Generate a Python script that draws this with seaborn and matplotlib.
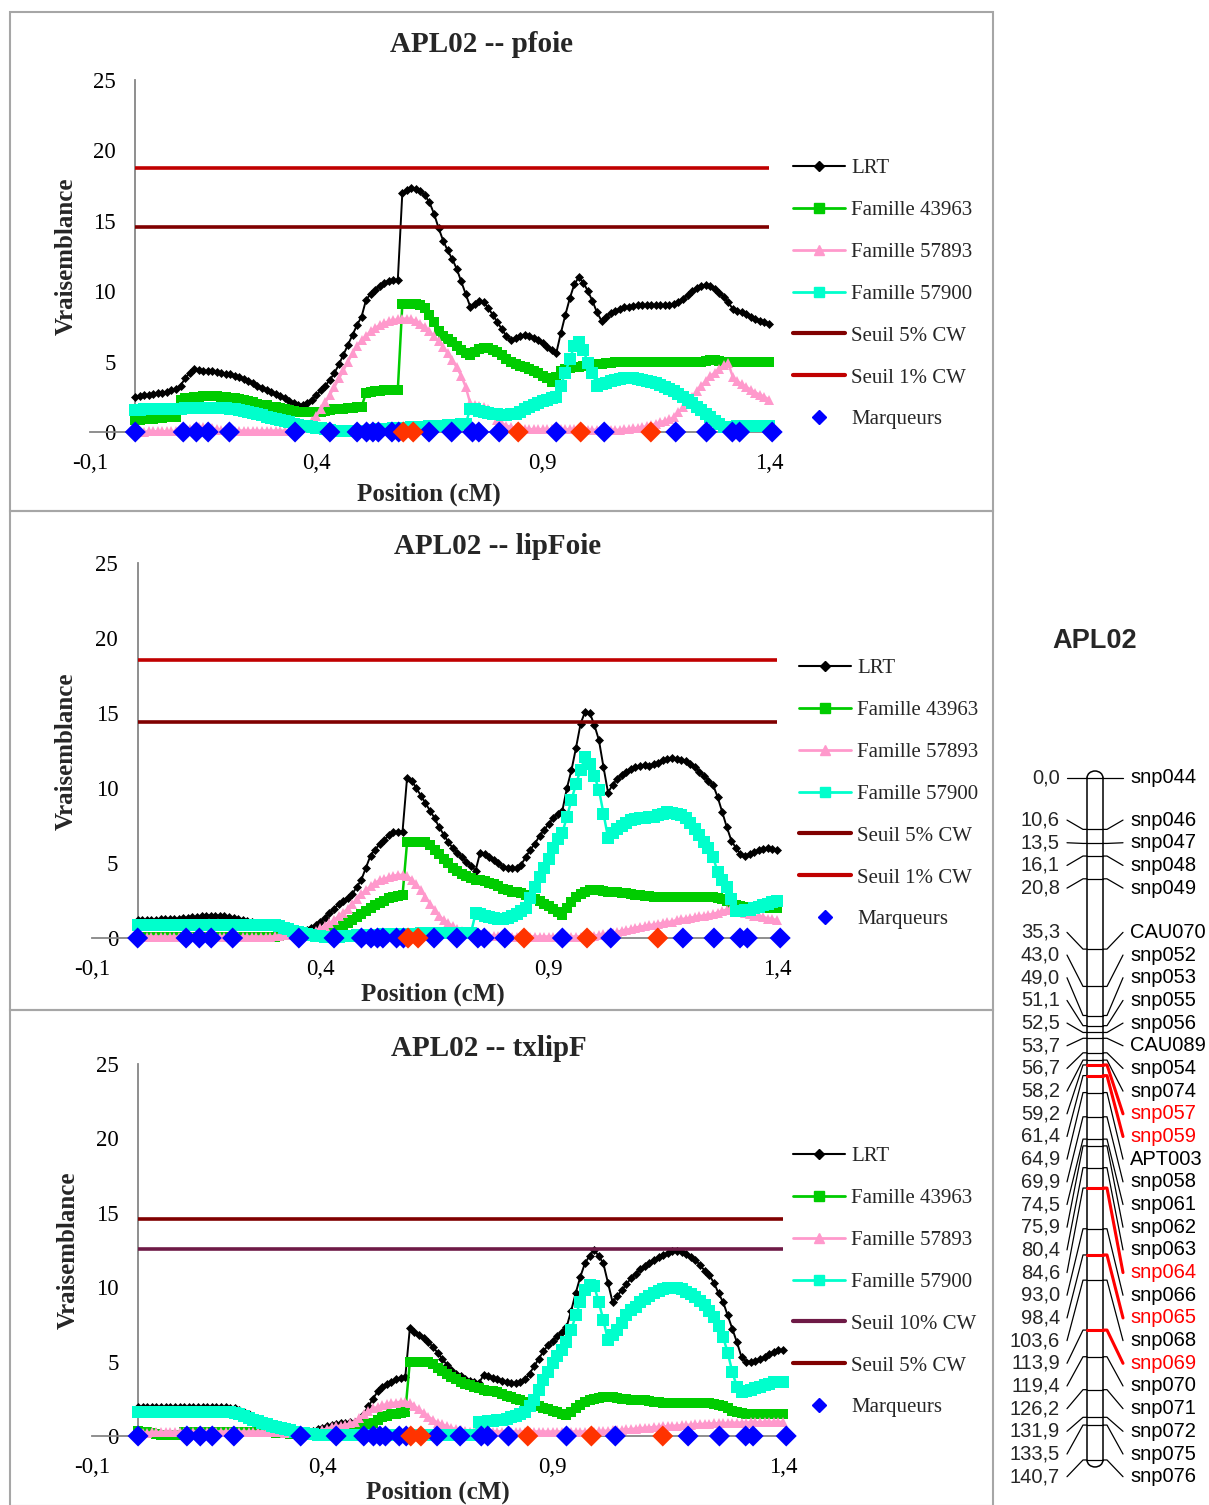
import numpy as np
import matplotlib
matplotlib.use("Agg")
import matplotlib.pyplot as plt
import seaborn as sns
from matplotlib.lines import Line2D
from matplotlib.patches import Rectangle, Arc

sns.set_theme(style="white")
plt.rcParams["font.family"] = ["Liberation Serif", "DejaVu Serif"]

# ---------------- data ----------------
# positions le long du groupe (grille de 0,01)
pos = np.arange(141) / 100

# APL02 -- pfoie
lrt1 = [2.5, 2.55, 2.6, 2.65, 2.7, 2.75, 2.8, 2.85, 2.95, 3.05,
        3.3, 3.8, 4.2, 4.45, 4.4, 4.35, 4.3, 4.3, 4.25, 4.2,
        4.15, 4.1, 4.0, 3.9, 3.75, 3.6, 3.45, 3.3, 3.15, 3.0,
        2.85, 2.7, 2.55, 2.4, 2.2, 2.05, 1.95, 1.95, 2.05, 2.3,
        2.6, 2.95, 3.3, 3.7, 4.2, 4.8, 5.5, 6.2, 6.9, 7.6,
        8.2, 9.4, 9.8, 10.1, 10.4, 10.6, 10.75, 10.8, 10.8, 17.0,
        17.2, 17.3, 17.25, 17.1, 16.8, 16.3, 15.5, 14.5, 13.6, 12.9,
        12.3, 11.6, 10.7, 9.8, 8.9, 9.1, 9.3, 9.2, 8.8, 8.3,
        7.8, 7.3, 6.8, 6.5, 6.7, 6.85, 6.9, 6.85, 6.7, 6.5,
        6.3, 6.05, 5.8, 5.6, 7.0, 8.3, 9.5, 10.5, 11.0, 10.6,
        10.0, 9.3, 8.5, 7.9, 8.2, 8.45, 8.6, 8.75, 8.85, 8.9,
        8.95, 9.0, 9.0, 9.0, 9.0, 9.0, 9.0, 9.0, 9.05, 9.1,
        9.2, 9.45, 9.75, 10.0, 10.25, 10.4, 10.45, 10.35, 10.15, 9.9,
        9.6, 9.2, 8.75, 8.6, 8.5, 8.35, 8.2, 8.05, 7.9, 7.8,
        7.7]
f43963_1 = [0.85, 0.88, 0.9, 0.93, 0.95, 0.98, 1.0, 1.03, 1.05, 1.08,
            2.3, 2.4, 2.45, 2.5, 2.5, 2.55, 2.55, 2.55, 2.55, 2.5,
            2.5, 2.45, 2.4, 2.35, 2.3, 2.2, 2.1, 2.0, 1.95, 1.9,
            1.8, 1.75, 1.7, 1.6, 1.55, 1.5, 1.45, 1.4, 1.4, 1.4,
            1.4, 1.45, 1.5, 1.55, 1.6, 1.62, 1.65, 1.7, 1.72, 1.75,
            1.8, 2.8, 2.85, 2.9, 2.9, 2.95, 2.95, 3.0, 3.0, 9.1,
            9.1, 9.1, 9.1, 9.05, 8.8, 8.3, 7.8, 7.2, 6.8, 6.6,
            6.4, 6.1, 5.8, 5.6, 5.5, 5.7, 5.9, 6.0, 5.95, 5.85,
            5.7, 5.5, 5.2, 4.95, 4.8, 4.7, 4.6, 4.5, 4.35, 4.2,
            4.0, 3.8, 3.55, 3.9, 4.3, 4.5, 4.55, 4.6, 4.65, 4.7,
            4.72, 4.75, 4.8, 4.85, 4.9, 4.92, 4.95, 4.97, 4.98, 5.0,
            5.0, 5.0, 5.0, 5.0, 5.0, 5.0, 5.0, 5.0, 5.0, 5.0,
            5.0, 5.0, 5.0, 5.0, 5.0, 5.0, 5.05, 5.1, 5.1, 5.05,
            5.0, 5.0, 5.0, 5.0, 5.0, 5.0, 5.0, 5.0, 5.0, 5.0,
            5.0]
f57893_1 = [0.0, 0.0, 0.02, 0.05, 0.05, 0.05, 0.05, 0.05, 0.05, 0.08,
            0.1, 0.15, 0.2, 0.3, 0.35, 0.35, 0.3, 0.25, 0.2, 0.15,
            0.12, 0.1, 0.1, 0.1, 0.1, 0.1, 0.1, 0.1, 0.1, 0.1,
            0.1, 0.1, 0.1, 0.1, 0.1, 0.12, 0.15, 0.25, 0.45, 0.75,
            1.15, 1.6, 2.1, 2.65, 3.2, 3.8, 4.4, 5.0, 5.6, 6.1,
            6.5, 6.85, 7.15, 7.4, 7.6, 7.75, 7.85, 7.95, 8.0, 8.05,
            8.05, 8.0, 7.9, 7.7, 7.45, 7.15, 6.8, 6.45, 6.05, 5.6,
            5.1, 4.6, 4.0, 3.2, 2.05, 1.9, 1.85, 1.8, 1.6, 1.2,
            0.85, 0.6, 0.45, 0.35, 0.3, 0.25, 0.22, 0.2, 0.2, 0.2,
            0.2, 0.2, 0.2, 0.2, 0.2, 0.2, 0.2, 0.2, 0.2, 0.2,
            0.15, 0.15, 0.15, 0.15, 0.15, 0.15, 0.15, 0.15, 0.2, 0.22,
            0.25, 0.3, 0.35, 0.4, 0.5, 0.6, 0.7, 0.8, 0.9, 1.05,
            1.4, 1.75, 2.1, 2.5, 2.9, 3.3, 3.6, 4.0, 4.2, 4.5,
            4.75, 4.9, 3.9, 3.6, 3.4, 3.2, 3.0, 2.8, 2.65, 2.5,
            2.3]
f57900_1 = [1.55, 1.58, 1.6, 1.6, 1.62, 1.62, 1.63, 1.65, 1.65, 1.65,
            1.65, 1.67, 1.68, 1.7, 1.7, 1.7, 1.7, 1.7, 1.7, 1.7,
            1.68, 1.65, 1.6, 1.55, 1.5, 1.45, 1.35, 1.3, 1.2, 1.1,
            1.0, 0.95, 0.85, 0.8, 0.7, 0.6, 0.5, 0.45, 0.4, 0.35,
            0.3, 0.25, 0.2, 0.15, 0.1, 0.08, 0.06, 0.05, 0.05, 0.05,
            0.08, 0.1, 0.12, 0.15, 0.18, 0.2, 0.22, 0.25, 0.27, 0.3,
            0.3, 0.32, 0.34, 0.36, 0.38, 0.4, 0.42, 0.44, 0.46, 0.48,
            0.5, 0.52, 0.55, 0.58, 1.65, 1.6, 1.5, 1.4, 1.35, 1.3,
            1.25, 1.2, 1.2, 1.25, 1.3, 1.45, 1.6, 1.75, 1.9, 2.05,
            2.2, 2.3, 2.45, 2.5, 3.3, 4.2, 5.2, 6.1, 6.4, 5.8,
            4.9, 4.2, 3.3, 3.4, 3.5, 3.6, 3.7, 3.75, 3.8, 3.8,
            3.8, 3.75, 3.7, 3.65, 3.55, 3.45, 3.35, 3.2, 3.05, 2.9,
            2.7, 2.5, 2.3, 2.05, 1.8, 1.55, 1.3, 1.05, 0.8, 0.55,
            0.35, 0.35, 0.38, 0.4, 0.4, 0.42, 0.43, 0.44, 0.45, 0.45,
            0.45]

# APL02 -- lipFoie
lrt2 = [1.2, 1.2, 1.2, 1.22, 1.22, 1.25, 1.25, 1.27, 1.28, 1.3,
        1.32, 1.35, 1.38, 1.4, 1.45, 1.5, 1.5, 1.5, 1.48, 1.45,
        1.4, 1.35, 1.3, 1.2, 1.15, 1.05, 1.0, 0.9, 0.85, 0.8,
        0.75, 0.7, 0.65, 0.6, 0.55, 0.52, 0.5, 0.55, 0.65, 0.85,
        1.1, 1.35, 1.65, 1.95, 2.25, 2.5, 2.7, 2.95, 3.4, 3.9,
        4.7, 5.5, 5.9, 6.25, 6.55, 6.85, 7.05, 7.1, 7.1, 10.7,
        10.5, 10.0, 9.5, 9.0, 8.5, 8.0, 7.4, 6.9, 6.4, 6.0,
        5.7, 5.4, 5.1, 4.8, 4.5, 5.7, 5.6, 5.4, 5.2, 5.0,
        4.75, 4.7, 4.65, 4.65, 4.9, 5.4, 5.9, 6.3, 6.8, 7.2,
        7.6, 8.0, 8.3, 8.5, 10.0, 11.2, 12.7, 14.3, 15.1, 15.0,
        14.2, 13.2, 11.4, 9.7, 10.2, 10.6, 10.9, 11.1, 11.3, 11.4,
        11.5, 11.55, 11.5, 11.6, 11.7, 11.85, 11.95, 12.0, 11.95, 11.9,
        11.8, 11.6, 11.4, 11.1, 10.8, 10.5, 10.2, 9.4, 8.4, 7.4,
        6.5, 6.0, 5.6, 5.5, 5.6, 5.75, 5.85, 5.95, 6.0, 5.95,
        5.85]
f43963_2 = [0.05, 0.05, 0.05, 0.05, 0.05, 0.05, 0.05, 0.05, 0.05, 0.05,
            0.05, 0.05, 0.05, 0.05, 0.05, 0.05, 0.05, 0.05, 0.05, 0.05,
            0.05, 0.05, 0.05, 0.05, 0.05, 0.05, 0.05, 0.05, 0.05, 0.05,
            0.1, 0.15, 0.2, 0.25, 0.3, 0.3, 0.3, 0.3, 0.3, 0.3,
            0.35, 0.4, 0.5, 0.6, 0.7, 0.85, 1.0, 1.2, 1.4, 1.6,
            1.8, 2.0, 2.2, 2.35, 2.5, 2.65, 2.75, 2.8, 2.85, 6.4,
            6.4, 6.4, 6.4, 6.4, 6.2, 5.9, 5.6, 5.3, 5.0, 4.7,
            4.5, 4.3, 4.15, 4.0, 3.9, 3.85, 3.8, 3.7, 3.6, 3.45,
            3.3, 3.2, 3.1, 3.05, 3.0, 2.9, 2.75, 2.6, 2.45, 2.3,
            2.15, 1.95, 1.75, 1.55, 2.0, 2.4, 2.75, 2.95, 3.1, 3.2,
            3.2, 3.2, 3.15, 3.1, 3.1, 3.05, 3.0, 3.0, 2.95, 2.9,
            2.85, 2.8, 2.8, 2.75, 2.75, 2.75, 2.75, 2.75, 2.75, 2.75,
            2.75, 2.75, 2.75, 2.75, 2.75, 2.75, 2.75, 2.7, 2.6, 2.45,
            2.3, 2.2, 2.15, 2.1, 2.1, 2.05, 2.05, 2.0, 2.0, 2.0,
            2.0]
f57893_2 = [0.1, 0.1, 0.1, 0.1, 0.1, 0.1, 0.1, 0.1, 0.1, 0.1,
            0.1, 0.1, 0.1, 0.1, 0.1, 0.1, 0.1, 0.1, 0.1, 0.1,
            0.1, 0.1, 0.1, 0.1, 0.1, 0.1, 0.1, 0.1, 0.1, 0.1,
            0.12, 0.15, 0.18, 0.2, 0.2, 0.2, 0.22, 0.25, 0.35, 0.5,
            0.65, 0.8, 1.0, 1.2, 1.45, 1.7, 1.95, 2.25, 2.6, 2.95,
            3.2, 3.45, 3.7, 3.85, 3.95, 4.05, 4.15, 4.2, 4.2, 4.15,
            3.9, 3.6, 3.2, 2.75, 2.3, 1.9, 1.5, 1.2, 1.0, 0.8,
            0.6, 0.5, 0.4, 0.3, 0.25, 0.2, 0.15, 0.15, 0.15, 0.15,
            0.1, 0.1, 0.1, 0.1, 0.1, 0.1, 0.1, 0.1, 0.1, 0.1,
            0.1, 0.1, 0.1, 0.1, 0.1, 0.1, 0.1, 0.1, 0.1, 0.1,
            0.15, 0.2, 0.25, 0.3, 0.35, 0.4, 0.5, 0.55, 0.6, 0.7,
            0.75, 0.8, 0.85, 0.9, 0.95, 1.0, 1.05, 1.1, 1.2, 1.25,
            1.3, 1.35, 1.4, 1.45, 1.5, 1.55, 1.6, 1.7, 1.8, 1.9,
            2.0, 1.9, 1.8, 1.7, 1.6, 1.5, 1.45, 1.4, 1.3, 1.25,
            1.2]
f57900_2 = [0.87, 0.87, 0.88, 0.88, 0.88, 0.88, 0.89, 0.89, 0.9, 0.9,
            0.9, 0.9, 0.9, 0.9, 0.9, 0.9, 0.9, 0.9, 0.9, 0.9,
            0.9, 0.9, 0.9, 0.9, 0.9, 0.9, 0.89, 0.89, 0.88, 0.87,
            0.85, 0.8, 0.7, 0.6, 0.5, 0.42, 0.35, 0.27, 0.2, 0.15,
            0.12, 0.1, 0.1, 0.1, 0.1, 0.12, 0.14, 0.15, 0.17, 0.2,
            0.2, 0.21, 0.22, 0.23, 0.24, 0.25, 0.26, 0.27, 0.28, 0.29,
            0.3, 0.3, 0.31, 0.31, 0.32, 0.32, 0.33, 0.33, 0.34, 0.34,
            0.35, 0.35, 0.36, 0.36, 1.65, 1.6, 1.5, 1.4, 1.35, 1.3,
            1.3, 1.35, 1.45, 1.6, 1.8, 2.0, 2.7, 3.4, 4.05, 4.7,
            5.3, 6.0, 6.6, 7.0, 8.1, 9.2, 10.3, 11.2, 12.1, 11.6,
            10.8, 9.9, 8.3, 6.7, 7.0, 7.3, 7.5, 7.7, 7.85, 7.95,
            8.0, 8.0, 8.05, 8.1, 8.2, 8.3, 8.4, 8.35, 8.3, 8.2,
            8.0, 7.7, 7.3, 6.9, 6.4, 6.0, 5.4, 4.4, 3.9, 3.4,
            2.6, 1.8, 1.8, 1.85, 1.9, 2.0, 2.1, 2.2, 2.3, 2.4,
            2.5]

# APL02 -- txlipF
lrt3 = [1.95, 1.95, 1.95, 1.95, 1.95, 1.95, 1.95, 1.95, 1.95, 1.95,
        1.95, 1.95, 1.95, 1.95, 1.95, 1.95, 1.95, 1.95, 1.95, 1.95,
        1.9, 1.85, 1.75, 1.6, 1.45, 1.3, 1.15, 1.0, 0.9, 0.8,
        0.7, 0.6, 0.5, 0.45, 0.4, 0.35, 0.3, 0.3, 0.35, 0.45,
        0.55, 0.65, 0.75, 0.8, 0.85, 0.9, 0.92, 0.95, 1.1, 1.5,
        2.0, 2.5, 3.0, 3.3, 3.5, 3.65, 3.8, 3.9, 3.95, 7.25,
        7.0, 6.8, 6.6, 6.3, 6.0, 5.6, 5.2, 4.8, 4.45, 4.2,
        4.0, 3.8, 3.7, 3.6, 3.55, 4.1, 4.0, 3.9, 3.8, 3.7,
        3.6, 3.55, 3.55, 3.6, 3.8, 4.2, 4.7, 5.2, 5.7, 6.1,
        6.4, 6.7, 7.0, 7.3, 8.4, 9.6, 10.7, 11.6, 12.1, 12.5,
        12.1, 11.6, 10.3, 9.0, 9.4, 9.8, 10.2, 10.6, 10.9, 11.2,
        11.4, 11.6, 11.8, 12.0, 12.15, 12.3, 12.4, 12.4, 12.35, 12.2,
        12.0, 11.8, 11.5, 11.1, 10.8, 10.3, 9.6, 9.0, 8.1, 7.2,
        6.3, 5.3, 5.0, 5.0, 5.05, 5.15, 5.3, 5.5, 5.65, 5.75,
        5.8]
f43963_3 = [0.35, 0.3, 0.25, 0.2, 0.15, 0.1, 0.08, 0.06, 0.05, 0.05,
            0.25, 0.25, 0.25, 0.25, 0.25, 0.25, 0.25, 0.25, 0.25, 0.25,
            0.25, 0.25, 0.25, 0.25, 0.25, 0.25, 0.25, 0.25, 0.25, 0.25,
            0.22, 0.2, 0.18, 0.15, 0.12, 0.1, 0.08, 0.06, 0.05, 0.05,
            0.05, 0.05, 0.06, 0.08, 0.1, 0.15, 0.25, 0.4, 0.55, 0.7,
            0.8, 0.9, 1.1, 1.25, 1.35, 1.45, 1.5, 1.55, 1.6, 5.0,
            5.0, 5.0, 5.0, 5.0, 4.85, 4.6, 4.4, 4.15, 3.95, 3.8,
            3.65, 3.5, 3.4, 3.3, 3.2, 3.1, 3.05, 3.0, 2.95, 2.85,
            2.7, 2.6, 2.5, 2.4, 2.3, 2.2, 2.1, 2.0, 1.9, 1.8,
            1.7, 1.6, 1.5, 1.4, 1.6, 1.85, 2.1, 2.3, 2.4, 2.5,
            2.55, 2.6, 2.6, 2.6, 2.55, 2.5, 2.5, 2.45, 2.45, 2.4,
            2.4, 2.35, 2.3, 2.3, 2.25, 2.25, 2.2, 2.2, 2.2, 2.2,
            2.2, 2.2, 2.2, 2.2, 2.2, 2.15, 2.1, 2.0, 1.85, 1.7,
            1.6, 1.55, 1.5, 1.5, 1.5, 1.5, 1.5, 1.5, 1.5, 1.5,
            1.5]
f57893_3 = [0.2, 0.2, 0.22, 0.25, 0.25, 0.28, 0.3, 0.3, 0.3, 0.3,
            0.3, 0.3, 0.3, 0.3, 0.3, 0.3, 0.3, 0.3, 0.3, 0.3,
            0.3, 0.3, 0.3, 0.3, 0.3, 0.3, 0.3, 0.3, 0.3, 0.3,
            0.28, 0.25, 0.22, 0.2, 0.17, 0.15, 0.12, 0.1, 0.15, 0.25,
            0.4, 0.5, 0.6, 0.65, 0.7, 0.75, 0.85, 0.95, 1.2, 1.45,
            1.7, 1.85, 1.95, 2.05, 2.15, 2.2, 2.25, 2.3, 2.3, 2.25,
            2.0, 1.8, 1.55, 1.3, 1.1, 0.9, 0.8, 0.65, 0.55, 0.45,
            0.4, 0.35, 0.3, 0.3, 0.3, 0.3, 0.3, 0.3, 0.3, 0.3,
            0.3, 0.3, 0.3, 0.3, 0.3, 0.3, 0.3, 0.3, 0.3, 0.3,
            0.3, 0.3, 0.3, 0.3, 0.3, 0.3, 0.3, 0.3, 0.3, 0.3,
            0.32, 0.34, 0.36, 0.38, 0.4, 0.42, 0.44, 0.46, 0.5, 0.52,
            0.55, 0.57, 0.6, 0.62, 0.64, 0.66, 0.68, 0.7, 0.72, 0.74,
            0.76, 0.78, 0.8, 0.82, 0.84, 0.85, 0.86, 0.87, 0.88, 0.89,
            0.9, 0.9, 0.9, 0.92, 0.92, 0.93, 0.93, 0.94, 0.95, 0.95,
            0.95]
f57900_3 = [1.6, 1.6, 1.6, 1.6, 1.6, 1.6, 1.6, 1.6, 1.6, 1.6,
            1.6, 1.6, 1.6, 1.6, 1.6, 1.6, 1.6, 1.6, 1.6, 1.6,
            1.6, 1.55, 1.45, 1.35, 1.2, 1.1, 1.0, 0.9, 0.8, 0.7,
            0.6, 0.52, 0.45, 0.38, 0.3, 0.22, 0.18, 0.15, 0.12, 0.1,
            0.1, 0.1, 0.1, 0.1, 0.1, 0.1, 0.1, 0.1, 0.1, 0.1,
            0.1, 0.1, 0.1, 0.1, 0.1, 0.1, 0.1, 0.1, 0.1, 0.1,
            0.1, 0.1, 0.1, 0.1, 0.1, 0.1, 0.1, 0.1, 0.1, 0.1,
            0.1, 0.1, 0.1, 0.1, 0.95, 0.95, 1.0, 1.0, 1.05, 1.1,
            1.15, 1.25, 1.35, 1.5, 1.6, 2.0, 2.4, 3.1, 3.75, 4.3,
            4.9, 5.35, 5.8, 6.3, 7.1, 8.1, 9.0, 9.8, 10.15, 10.1,
            9.0, 7.8, 6.45, 6.8, 7.1, 7.6, 8.1, 8.5, 8.7, 9.0,
            9.2, 9.4, 9.6, 9.75, 9.85, 9.95, 9.95, 9.95, 9.85, 9.7,
            9.55, 9.35, 9.1, 8.8, 8.4, 8.0, 7.4, 6.65, 5.6, 4.3,
            3.3, 2.95, 3.0, 3.1, 3.2, 3.3, 3.4, 3.5, 3.6, 3.6,
            3.6]

# carte génétique APL02 (cM)
map_names = ["snp044", "snp046", "snp047", "snp048", "snp049", "CAU070", "snp052",
             "snp053", "snp055", "snp056", "CAU089", "snp054", "snp074", "snp057",
             "snp059", "APT003", "snp058", "snp061", "snp062", "snp063", "snp064",
             "snp066", "snp065", "snp068", "snp069", "snp070", "snp071", "snp072",
             "snp075", "snp076"]
map_cm = [0.0, 10.6, 13.5, 16.1, 20.8, 35.3, 43.0, 49.0, 51.1, 52.5, 53.7, 56.7,
          58.2, 59.2, 61.4, 64.9, 69.9, 74.5, 75.9, 80.4, 84.6, 93.0, 98.4, 103.6,
          113.9, 119.4, 126.2, 131.9, 133.5, 140.7]
map_hit = ["snp057", "snp059", "snp064", "snp065", "snp069"]

# seuils (valeur, libellé)
seuils1 = [(14.55, "Seuil 5% CW"), (18.75, "Seuil 1% CW")]
seuils2 = [(14.4, "Seuil 5% CW"), (18.55, "Seuil 1% CW")]
seuils3 = [(12.57, "Seuil 10% CW"), (14.58, "Seuil 5% CW")]

titles = ["APL02 -- pfoie", "APL02 -- lipFoie", "APL02 -- txlipF"]
x_ticks = [-0.1, 0.4, 0.9, 1.4]

# ---------------- style ----------------
C_LRT = "black"
C_G = "#00CC00"
C_P = "#FF99CC"
C_C = "#00FFCC"
SEUIL_COL = {"Seuil 1% CW": "#C00000", "Seuil 5% CW": "#800000", "Seuil 10% CW": "#6E1A46"}
GRAY = "#868686"
SANS = ["Liberation Sans", "DejaVu Sans"]

W, H = 1209, 1505
fig = plt.figure(figsize=(W / 100, H / 100), dpi=100)
fig.patch.set_facecolor("white")


def px_axes(l, t, r, b):
    return fig.add_axes([l / W, 1 - b / H, (r - l) / W, (b - t) / H])


def ftext(x, y, s, **kw):
    fig.text(x / W, 1 - y / H, s, **kw)


# cadres des trois graphiques
for top, bot in [(12, 511), (511, 1010), (1010, 1506)]:
    fig.add_artist(Rectangle((10 / W, 1 - bot / H), 983 / W, (bot - top) / H,
                             transform=fig.transFigure, fill=False, ec="#A6A6A6", lw=1.5))

panels = [
    dict(series=(lrt1, f43963_1, f57893_1, f57900_1), seuils=seuils1,
         box=(90, 80, 769, 432), title=(482, 45), ylab=(66, 256), xlab=(429, 494), leg=(793, 294)),
    dict(series=(lrt2, f43963_2, f57893_2, f57900_2), seuils=seuils2,
         box=(92, 563, 777, 938), title=(498, 547), ylab=(66, 751), xlab=(433, 994), leg=(799, 794)),
    dict(series=(lrt3, f43963_3, f57893_3, f57900_3), seuils=seuils3,
         box=(92, 1064, 783, 1436), title=(489, 1048), ylab=(68, 1250), xlab=(438, 1492), leg=(793, 1282)),
]

mk_pos = np.array(map_cm) / 100
is_hit = np.array([n in map_hit for n in map_names])

for i, p in enumerate(panels):
    ax = px_axes(*p["box"])
    lrt, g, pk, cy = p["series"]

    sns.lineplot(x=pos, y=lrt, ax=ax, color=C_LRT, lw=1.4, marker="D", markersize=4.3,
                 markeredgecolor=C_LRT, markeredgewidth=0.5, estimator=None, legend=False,
                 clip_on=False, zorder=3)
    sns.lineplot(x=pos, y=g, ax=ax, color=C_G, lw=1.8, marker="s", markersize=7.5,
                 markeredgecolor=C_G, markeredgewidth=0, estimator=None, legend=False,
                 clip_on=False, zorder=4)
    sns.lineplot(x=pos, y=pk, ax=ax, color=C_P, lw=1.8, marker="^", markersize=7.5,
                 markeredgecolor=C_P, markeredgewidth=0, estimator=None, legend=False,
                 clip_on=False, zorder=5)
    sns.lineplot(x=pos, y=cy, ax=ax, color=C_C, lw=1.8, marker="s", markersize=8,
                 markeredgecolor=C_C, markeredgewidth=0, estimator=None, legend=False,
                 clip_on=False, zorder=6)

    for val, lab in p["seuils"]:
        ax.hlines(val, pos[0], pos[-1], color=SEUIL_COL[lab], lw=2.6, zorder=7)

    sns.scatterplot(x=mk_pos[~is_hit], y=np.zeros((~is_hit).sum()), ax=ax, marker="D",
                    s=115, color="#0000FF", edgecolor="none", legend=False, clip_on=False, zorder=9)
    sns.scatterplot(x=mk_pos[is_hit], y=np.zeros(is_hit.sum()), ax=ax, marker="D",
                    s=115, color="#FF3300", edgecolor="none", legend=False, clip_on=False, zorder=9)

    ax.set_xlim(-0.1, 1.4)
    ax.set_ylim(0, 25)
    ax.set_facecolor("none")
    for s in ["top", "right"]:
        ax.spines[s].set_visible(False)
    ax.spines["left"].set_position(("data", 0))
    for s in ["left", "bottom"]:
        ax.spines[s].set_color(GRAY)
        ax.spines[s].set_linewidth(1.3)
        ax.spines[s].set_zorder(1)
    ax.set_yticks([0, 5, 10, 15, 20, 25])
    ax.set_xticks(x_ticks)
    ax.set_xticklabels([f"{t:.1f}".replace(".", ",") for t in x_ticks])
    ax.tick_params(axis="both", direction="out", length=5, width=1.2, color=GRAY,
                   labelsize=16.5, pad=9, labelcolor="black")
    ax.tick_params(axis="x", pad=10)
    ax.set_xlabel("")
    ax.set_ylabel("")

    ftext(*p["title"], titles[i], ha="center", va="center", fontsize=21, fontweight="bold")
    ftext(*p["ylab"], "Vraisemblance", ha="center", va="center", rotation=90,
          fontsize=18, fontweight="bold")
    ftext(*p["xlab"], "Position (cM)", ha="center", va="center", fontsize=18, fontweight="bold")

    handles = [
        Line2D([], [], color=C_LRT, lw=1.5, marker="D", markersize=5),
        Line2D([], [], color=C_G, lw=2, marker="s", markersize=7),
        Line2D([], [], color=C_P, lw=2, marker="^", markersize=7.5),
        Line2D([], [], color=C_C, lw=2, marker="s", markersize=7),
    ]
    labels = ["LRT", "Famille 43963", "Famille 57893", "Famille 57900"]
    for val, lab in p["seuils"]:
        handles.append(Line2D([], [], color=SEUIL_COL[lab], lw=3))
        labels.append(lab)
    handles.append(Line2D([], [], color="#0000FF", lw=0, marker="D", markersize=7.5))
    labels.append("Marqueurs")
    lx, ly = p["leg"]
    fig.legend(handles, labels, loc="center left", bbox_to_anchor=(lx / W, 1 - ly / H),
               frameon=False, fontsize=15, handlelength=2.5, handletextpad=0.3,
               labelspacing=1.07, borderpad=0, borderaxespad=0, numpoints=1)

# ---------------- carte génétique ----------------
PX_CM = 4.847
Y0 = 778
mx = fig.add_axes([1000 / W, 0, 209 / W, 1])
mx.set_xlim(1000, 1209)
mx.set_ylim((H - Y0) / PX_CM, (0 - Y0) / PX_CM)
mx.axis("off")


def spread(vals, gap):
    # étiquettes regroupées, centrées sur le milieu de leur groupe, sans chevauchement
    def start(g):
        return (g[0] + g[-1]) / 2 - gap * (len(g) - 1) / 2

    # 1) regroupement descendant
    groups = []
    for v in vals:
        if groups:
            last = groups[-1]
            end = start(last) + gap * (len(last) - 1)
            if v < end + gap:
                last.append(v)
                continue
        groups.append([v])
    # 2) fusion des groupes qui se chevauchent encore
    merged = True
    while merged:
        merged = False
        for k in range(len(groups) - 1):
            end = start(groups[k]) + gap * (len(groups[k]) - 1)
            if start(groups[k + 1]) < end + gap:
                groups[k] = groups[k] + groups.pop(k + 1)
                merged = True
                break
    out = []
    for g in groups:
        out += [start(g) + gap * k for k in range(len(g))]
    return out


lab_y = spread(map_cm, 22.68 / PX_CM)
XL, XR = 1087, 1103
cap = 7 / PX_CM
mx.plot([XL, XL], [map_cm[0], map_cm[-1]], color="black", lw=1.1)
mx.plot([XR, XR], [map_cm[0], map_cm[-1]], color="black", lw=1.1)
mx.add_patch(Arc(((XL + XR) / 2, map_cm[0]), XR - XL, 2 * cap, theta1=180, theta2=360,
                 color="black", lw=1.1))
mx.add_patch(Arc(((XL + XR) / 2, map_cm[-1]), XR - XL, 2 * cap, theta1=0, theta2=180,
                 color="black", lw=1.1))

for name, cm, ly, hit in zip(map_names, map_cm, lab_y, is_hit):
    col = "#FF0000" if hit else "black"
    lw_in = 2.2 if hit else 0.9
    mx.plot([XL, XR], [cm, cm], color=col, lw=lw_in, zorder=3)
    mx.plot([1067, 1083, XL], [ly, cm, cm], color="black", lw=0.9)
    mx.plot([XR, 1107, 1123], [cm, cm, ly], color=col, lw=lw_in)
    mx.text(1060, ly, f"{cm:.1f}".replace(".", ","), ha="right", va="center",
            fontsize=14.5, family=SANS)
    mx.text(1130, ly, name, ha="left", va="center", color=col, fontsize=14.5, family=SANS)

ftext(1095, 641, "APL02", ha="center", va="center", fontsize=19.5, fontweight="bold",
      family=SANS)

fig.savefig("out.png", dpi=100)
